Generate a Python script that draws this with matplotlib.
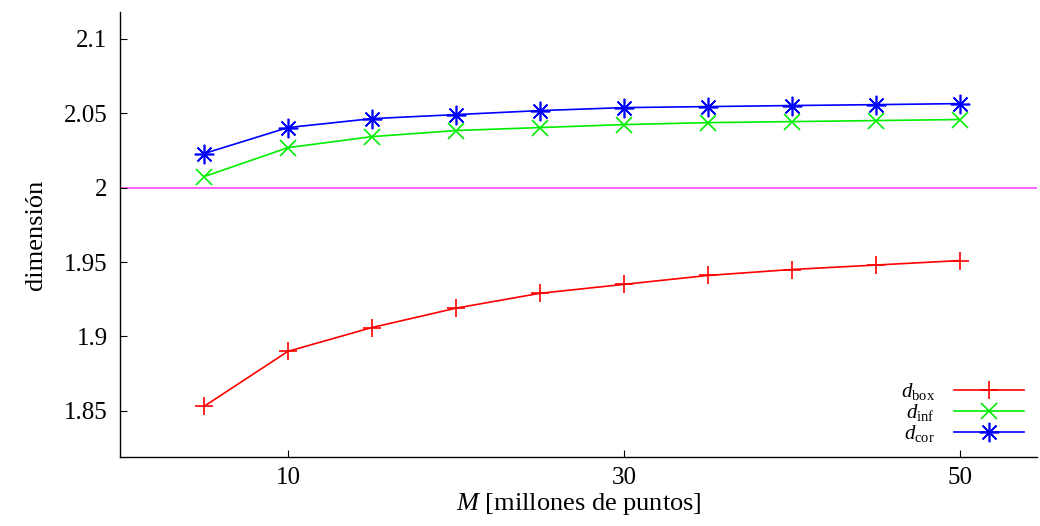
import matplotlib
matplotlib.use('Agg')
import matplotlib.pyplot as plt

# --- data ---
M = [5, 10, 15, 20, 25, 30, 35, 40, 45, 50]
d_box = [1.853, 1.890, 1.906, 1.919, 1.929, 1.935, 1.941, 1.945, 1.948, 1.951]
d_inf = [2.0074, 2.0269, 2.0343, 2.0384, 2.0404, 2.0424, 2.0437, 2.0444, 2.0451, 2.0458]
d_cor = [2.0229, 2.0404, 2.0464, 2.0491, 2.0518, 2.0538, 2.0545, 2.0552, 2.0558, 2.0565]
ref_dim = 2.0

xticks = [10, 30, 50]
yticks = [1.85, 1.9, 1.95, 2.0, 2.05, 2.1]
ytick_labels = ["1.85", "1.9", "1.95", "2", "2.05", "2.1"]

plt.rcParams['font.family'] = ['Liberation Serif', 'DejaVu Serif']
plt.rcParams['mathtext.fontset'] = 'custom'
plt.rcParams['mathtext.rm'] = 'Liberation Serif'
plt.rcParams['mathtext.it'] = 'Liberation Serif:italic'

fig = plt.figure(figsize=(10.4, 5.26), dpi=100)
ax = fig.add_axes([0.1154, 0.1312, 0.8816, 0.8458])

ax.axhline(ref_dim, color='#ff55ff', lw=1.3, zorder=1)
ax.plot(M, d_box, color='#ff0000', lw=1.2, marker='+', ms=13, mew=1.2,
        label=r'$d_{\mathrm{box}}$')
ax.plot(M, d_inf, color='#00ee00', lw=1.2, marker='x', ms=11, mew=1.2,
        label=r'$d_{\mathrm{inf}}$')
ax.plot(M, d_cor, color='#0000ff', lw=1.2, marker=(8, 2, 0), ms=14, mew=1.2,
        label=r'$d_{\mathrm{cor}}$')

ax.set_xlim(0, 54.6)
ax.set_ylim(1.819, 2.118)
ax.set_xticks(xticks)
ax.set_xticklabels([str(t) for t in xticks])
ax.set_yticks(yticks)
ax.set_yticklabels(ytick_labels)
ax.tick_params(axis='x', direction='in', length=5, width=0.8, labelsize=18, pad=7)
ax.tick_params(axis='y', direction='in', length=5, width=0.8, labelsize=18, pad=9)

for s in ['top', 'right']:
    ax.spines[s].set_visible(False)
for s in ['left', 'bottom']:
    ax.spines[s].set_linewidth(1.0)

ax.set_xlabel(r'$M$ [millones de puntos]', fontsize=19, labelpad=2)
ax.set_ylabel('dimensión', fontsize=19, labelpad=12)

ax.legend(loc='lower right', frameon=False, markerfirst=False, fontsize=15,
          handlelength=3.4, labelspacing=0.0, handletextpad=0.9,
          borderaxespad=0.2)

fig.savefig('out.png', dpi=100)
